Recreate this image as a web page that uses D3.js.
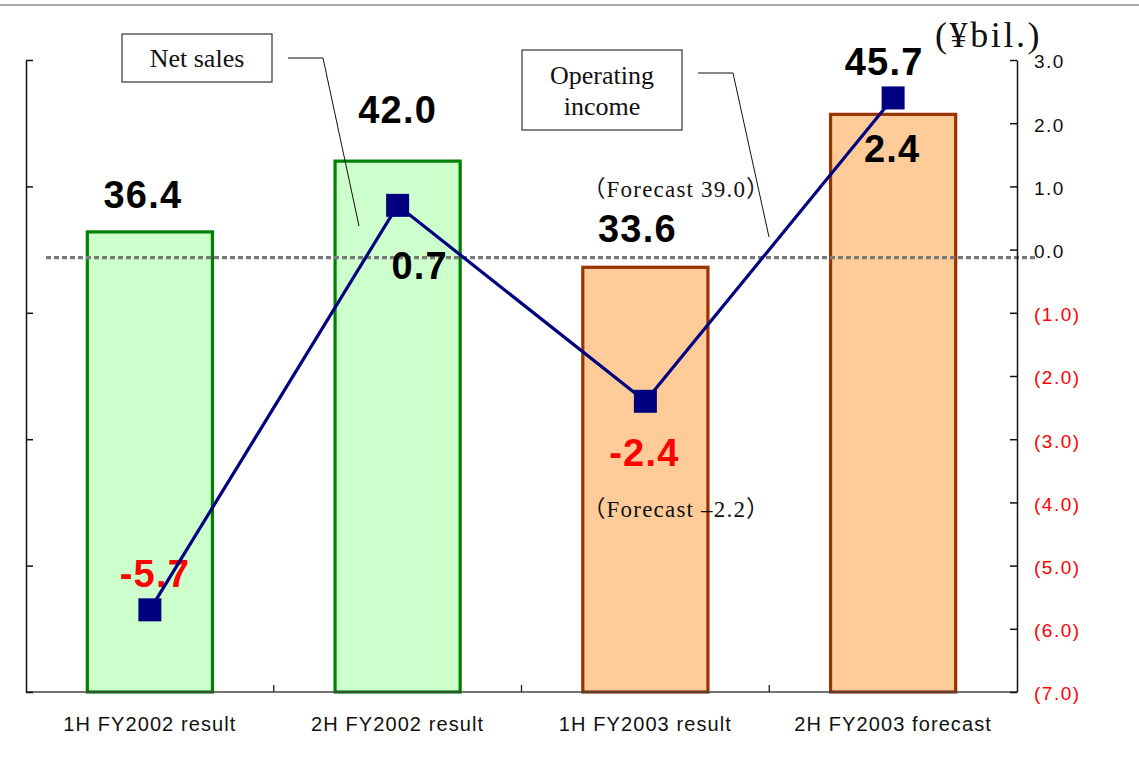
<!DOCTYPE html>
<html>
<head>
<meta charset="utf-8">
<script src="https://cdn.jsdelivr.net/npm/d3@7"></script>
<style>
  html, body { margin: 0; padding: 0; background: #fff; }
  svg { display: block; }
</style>
</head>
<body>
<svg id="chart" width="1139" height="770"></svg>
<script>
// Half-year results (¥bil.)
const categories = ["1H FY2002 result", "2H FY2002 result", "1H FY2003 result", "2H FY2003 forecast"];
const netSales = [36.4, 42.0, 33.6, 45.7];
const operatingIncome = [-5.7, 0.7, -2.4, 2.4];
const isForecastStyle = [false, false, true, true];
const leftTicks = [0, 10, 20, 30, 40, 50];
const rightTicks = [3, 2, 1, 0, -1, -2, -3, -4, -5, -6, -7];
const forecastNotes = ["（Forecast 39.0）", "（Forecast –2.2）"];

// Label offsets from each mark (layout only)
const barLabelOffset = [[-7, -24], [0, -38], [-8, -25], [-9, -39]];
const pointLabelOffset = [[5, -23], [22, 74], [-1, 65], [-1, 64]];

const svg = d3.select("#chart");
const plot = { left: 26, right: 1017, top: 60, bottom: 692 };

const x = d3.scaleBand()
  .domain(categories)
  .range([plot.left, plot.right])
  .paddingInner(0.495)
  .paddingOuter(0.2475);

const yL = d3.scaleLinear().domain([0, 50]).range([plot.bottom, plot.top]);
const yR = d3.scaleLinear().domain([-7, 3]).range([plot.bottom, plot.top]);
const cx = c => x(c) + x.bandwidth() / 2;

// Top rule
svg.append("line")
  .attr("x1", 0).attr("x2", 1139).attr("y1", 5).attr("y2", 5)
  .attr("stroke", "#555").attr("stroke-width", 1.2);

// Bars (net sales)
svg.append("g").selectAll("rect")
  .data(categories)
  .join("rect")
  .attr("x", c => x(c))
  .attr("y", (c, i) => yL(netSales[i]))
  .attr("width", x.bandwidth())
  .attr("height", (c, i) => yL(0) - yL(netSales[i]))
  .attr("fill", (c, i) => isForecastStyle[i] ? "#ffcc99" : "#ccffcc")
  .attr("stroke", (c, i) => isForecastStyle[i] ? "#993300" : "#008000")
  .attr("stroke-width", 3.2);

// Dotted reference line near zero operating income
svg.append("line")
  .attr("x1", 46).attr("x2", 1036)
  .attr("y1", yR(0) + 8).attr("y2", yR(0) + 8)
  .attr("stroke", "#7a7a7a").attr("stroke-width", 3.2)
  .attr("stroke-dasharray", "5,3");

// Category axis
const xAxis = svg.append("g");
xAxis.append("line")
  .attr("x1", plot.left).attr("x2", plot.right)
  .attr("y1", plot.bottom).attr("y2", plot.bottom)
  .attr("stroke", "#444").attr("stroke-width", 1.5);
xAxis.selectAll("line.sep")
  .data(categories.slice(1))
  .join("line")
  .attr("class", "sep")
  .attr("x1", c => x(c) - x.step() * x.paddingInner() / 2)
  .attr("x2", c => x(c) - x.step() * x.paddingInner() / 2)
  .attr("y1", plot.bottom).attr("y2", plot.bottom - 7)
  .attr("stroke", "#222").attr("stroke-width", 1.3);
xAxis.selectAll("text")
  .data(categories)
  .join("text")
  .attr("x", c => cx(c))
  .attr("y", 731)
  .attr("text-anchor", "middle")
  .attr("font-family", "'Liberation Sans', Arial, sans-serif")
  .attr("font-size", 20)
  .attr("letter-spacing", 1.1)
  .attr("fill", "#111")
  .text(c => c);

// Left axis (net sales); its labels sit at the page edge
const gL = svg.append("g").attr("transform", `translate(${plot.left},0)`)
  .call(d3.axisLeft(yL).tickValues(leftTicks).tickSizeInner(-7).tickSizeOuter(0).tickPadding(30)
    .tickFormat(d3.format("d")));
gL.select(".domain").attr("stroke", "#111").attr("stroke-width", 1.5);
gL.selectAll(".tick line").attr("stroke", "#111").attr("stroke-width", 1.5);
gL.selectAll(".tick text")
  .attr("font-family", "'Liberation Sans', Arial, sans-serif")
  .attr("font-size", 19).attr("fill", "#111");

// Right axis (operating income)
const fmtR = v => v < 0 ? `(${Math.abs(v).toFixed(1)})` : v.toFixed(1);
const gR = svg.append("g").attr("transform", `translate(${plot.right},0)`)
  .call(d3.axisRight(yR).tickValues(rightTicks).tickSizeInner(-7).tickSizeOuter(0).tickPadding(17)
    .tickFormat(fmtR));
gR.select(".domain").attr("stroke", "#111").attr("stroke-width", 1.5);
gR.selectAll(".tick line").attr("stroke", "#111").attr("stroke-width", 1.5);
gR.selectAll(".tick text")
  .attr("font-family", "'Liberation Sans', Arial, sans-serif")
  .attr("font-size", 19).attr("letter-spacing", 1.5)
  .attr("dy", "0.42em")
  .attr("fill", d => d < 0 ? "#ff0000" : "#111");

const bold = "'Liberation Sans', Arial, sans-serif";

// Net sales value labels
svg.append("g").selectAll("text")
  .data(categories)
  .join("text")
  .attr("x", (c, i) => cx(c) + barLabelOffset[i][0])
  .attr("y", (c, i) => yL(netSales[i]) + barLabelOffset[i][1])
  .attr("text-anchor", "middle")
  .attr("font-family", bold).attr("font-weight", "bold")
  .attr("font-size", 38).attr("letter-spacing", 1.2)
  .attr("fill", "#000")
  .text((c, i) => netSales[i].toFixed(1));

// Operating income value labels
svg.append("g").selectAll("text")
  .data(categories)
  .join("text")
  .attr("x", (c, i) => cx(c) + pointLabelOffset[i][0])
  .attr("y", (c, i) => yR(operatingIncome[i]) + pointLabelOffset[i][1])
  .attr("text-anchor", "middle")
  .attr("font-family", bold).attr("font-weight", "bold")
  .attr("font-size", 38).attr("letter-spacing", 1.2)
  .attr("fill", (c, i) => operatingIncome[i] < 0 ? "#ff0000" : "#000")
  .text((c, i) => operatingIncome[i].toFixed(1));

// Forecast notes for 1H FY2003
const serif = "'Liberation Serif', 'Times New Roman', 'Noto Sans CJK JP', serif";
[197, 517].forEach((yy, k) => {
  svg.append("text")
    .attr("x", cx(categories[2]) + 31).attr("y", yy)
    .attr("text-anchor", "middle")
    .attr("font-family", serif).attr("font-size", 23).attr("letter-spacing", 1.2)
    .attr("fill", "#111")
    .text(forecastNotes[k]);
});

// Operating income line and markers
const line = d3.line()
  .x((d, i) => cx(categories[i]))
  .y(d => yR(d));
svg.append("path")
  .datum(operatingIncome)
  .attr("d", line)
  .attr("fill", "none")
  .attr("stroke", "#000080")
  .attr("stroke-width", 3.2);
const ms = 23;
svg.append("g").selectAll("rect")
  .data(operatingIncome)
  .join("rect")
  .attr("x", (d, i) => cx(categories[i]) - ms / 2)
  .attr("y", d => yR(d) - ms / 2)
  .attr("width", ms).attr("height", ms)
  .attr("fill", "#000080");

// Callouts
function callout(box, lines, leader) {
  const g = svg.append("g");
  g.append("rect")
    .attr("x", box[0]).attr("y", box[1]).attr("width", box[2]).attr("height", box[3])
    .attr("fill", "#fff").attr("stroke", "#333").attr("stroke-width", 1.2);
  lines.forEach((t, k) => {
    g.append("text")
      .attr("x", box[0] + box[2] / 2)
      .attr("y", box[1] + box[3] / 2 + 9 + (k - (lines.length - 1) / 2) * 31)
      .attr("text-anchor", "middle")
      .attr("font-family", serif).attr("font-size", 26).attr("fill", "#111")
      .text(t);
  });
  g.append("polyline")
    .attr("points", leader.map(p => p.join(",")).join(" "))
    .attr("fill", "none").attr("stroke", "#111").attr("stroke-width", 1);
}
callout([122, 34, 150, 48], ["Net sales"], [[288, 58], [323, 58], [359, 226]]);
callout([522, 50, 160, 80], ["Operating", "income"], [[698, 73], [733, 73], [769, 237]]);

// Unit label
svg.append("text")
  .attr("x", 935).attr("y", 47)
  .attr("font-family", serif).attr("font-size", 36).attr("letter-spacing", 2.6)
  .attr("fill", "#111")
  .text("(¥bil.)");
</script>
</body>
</html>
